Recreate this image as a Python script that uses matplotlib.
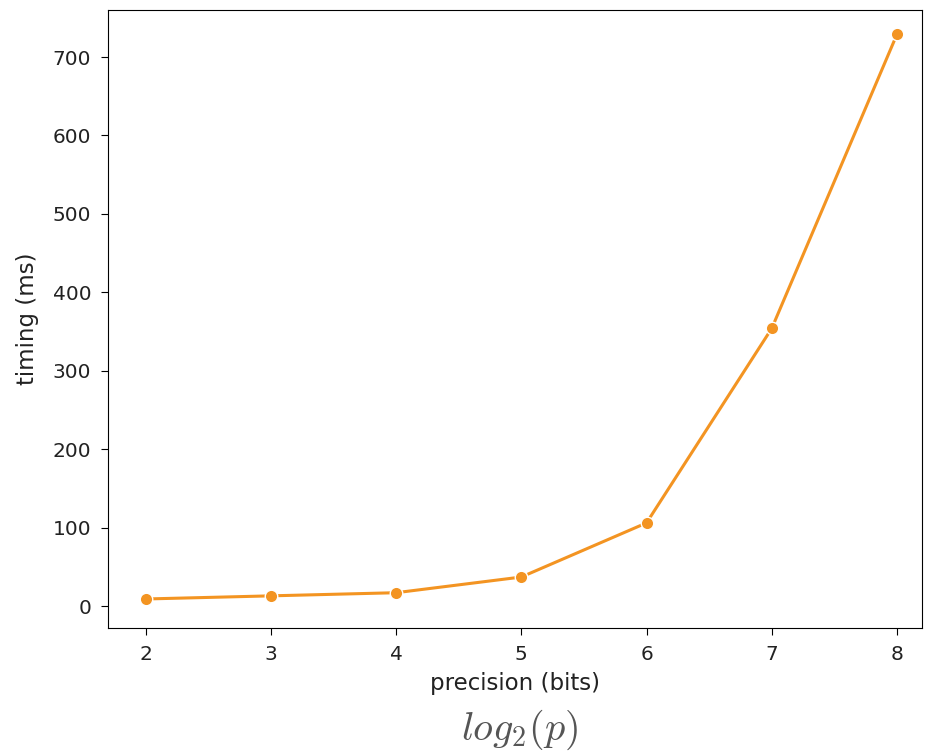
import matplotlib
matplotlib.use("Agg")
import matplotlib.pyplot as plt

precision_bits = [2, 3, 4, 5, 6, 7, 8]
timing_ms = [9, 13, 17, 37, 106, 354, 729]

fig = plt.figure(figsize=(9.32, 7.55), dpi=100)
ax = fig.add_axes([0.1159, 0.1682, 0.8734, 0.8186])
ax.plot(precision_bits, timing_ms, color='#f39422', linewidth=2.2,
        marker='o', markersize=9, markeredgecolor='white', markeredgewidth=1)
ax.set_xlim(1.7, 8.2)
ax.set_ylim(-28, 760)
ax.set_xticks(precision_bits)
ax.set_yticks([0, 100, 200, 300, 400, 500, 600, 700])
ax.tick_params(labelsize=14.5, length=5, pad=7, labelcolor='#222222')
ax.set_xlabel('precision (bits)', fontsize=16.5, color='#222222', labelpad=6)
ax.set_ylabel('timing (ms)', fontsize=16.5, color='#222222', labelpad=10)
plt.rcParams['mathtext.fontset'] = 'cm'
fig.text(0.557, 0.033, r'$log_2(p)$', fontsize=29, color='#555555', ha='center', va='center')
fig.savefig('out.png', dpi=100)
